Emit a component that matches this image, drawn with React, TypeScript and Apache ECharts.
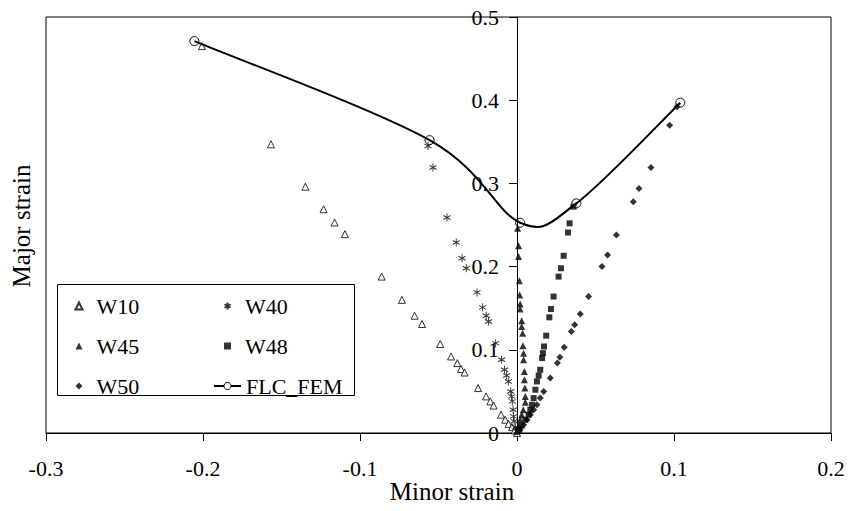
import React, { useEffect, useRef } from "react";
import * as echarts from "echarts";

const xTicks = { min: -0.3, max: 0.2, interval: 0.1 };
const yTicks = { min: 0, max: 0.5, interval: 0.1 };

const w10: number[][] = [
  [-0.2007, 0.465], [-0.1567, 0.347], [-0.1348, 0.296], [-0.1232, 0.269], [-0.1162, 0.253],
  [-0.1096, 0.239], [-0.0862, 0.188], [-0.0733, 0.16], [-0.0652, 0.141], [-0.0605, 0.131],
  [-0.0489, 0.107], [-0.042, 0.092], [-0.038, 0.084], [-0.0357, 0.077], [-0.0334, 0.0727],
  [-0.0248, 0.054], [-0.0197, 0.044], [-0.017, 0.038], [-0.0149, 0.033], [-0.0102, 0.022],
  [-0.0075, 0.016], [-0.0054, 0.011], [-0.0032, 0.007], [-0.0015, 0.003], [0, 0],
];

const w40: number[][] = [
  [-0.0567, 0.345], [-0.0535, 0.319], [-0.0446, 0.259], [-0.0387, 0.229], [-0.035, 0.21],
  [-0.0323, 0.198], [-0.0255, 0.169], [-0.0219, 0.151], [-0.0196, 0.141], [-0.0181, 0.134],
  [-0.0136, 0.108], [-0.0098, 0.088], [-0.008, 0.076], [-0.0066, 0.069], [-0.0055, 0.062],
  [-0.004, 0.05], [-0.0034, 0.044], [-0.003, 0.038], [-0.0025, 0.028], [-0.0022, 0.02],
  [-0.0018, 0.014], [-0.001, 0.007], [0, 0.002],
];

const w45: number[][] = [
  [0.0004, 0.246], [0.001, 0.225], [0.001, 0.212], [0.0015, 0.183], [0.0017, 0.166],
  [0.002, 0.155], [0.002, 0.149], [0.003, 0.135], [0.003, 0.128], [0.0036, 0.12],
  [0.0038, 0.105], [0.0042, 0.096], [0.0042, 0.088], [0.0047, 0.074], [0.0047, 0.064],
  [0.005, 0.054], [0.0053, 0.044], [0.0053, 0.037], [0.004, 0.028], [0.003, 0.022],
  [0.002, 0.016], [0.001, 0.008], [0, 0.002],
];

const w48: number[][] = [
  [0.036, 0.272], [0.0335, 0.252], [0.0325, 0.241], [0.0297, 0.213], [0.028, 0.198],
  [0.0265, 0.188], [0.0233, 0.164], [0.0216, 0.149], [0.0206, 0.139], [0.0186, 0.117],
  [0.0172, 0.104], [0.0165, 0.096], [0.016, 0.09], [0.0148, 0.076], [0.0138, 0.069],
  [0.0127, 0.062], [0.0117, 0.052], [0.0106, 0.042], [0.0096, 0.034], [0.0085, 0.028],
  [0.0074, 0.022], [0.0053, 0.016], [0.003, 0.009], [0.0015, 0.004],
];

const w50: number[][] = [
  [0.1019, 0.392], [0.0972, 0.37], [0.0853, 0.319], [0.0777, 0.294], [0.0741, 0.278],
  [0.0633, 0.238], [0.0577, 0.214], [0.0541, 0.2], [0.0456, 0.164], [0.0403, 0.143],
  [0.0367, 0.13], [0.0346, 0.122], [0.0301, 0.103], [0.0273, 0.091], [0.0257, 0.084],
  [0.0212, 0.066], [0.017, 0.05], [0.0148, 0.042], [0.0127, 0.034], [0.0106, 0.028],
  [0.0085, 0.022], [0.0064, 0.016], [0.0042, 0.01], [0.002, 0.004],
];

const flcFem: number[][] = [
  [-0.2055, 0.471], [-0.0557, 0.352], [0.002, 0.2527], [0.0378, 0.276], [0.104, 0.397],
];

const FONT = "'Liberation Serif', 'Times New Roman', serif";
const ASTERISK = "path://M5,0L5,10M0.67,2.5L9.33,7.5M0.67,7.5L9.33,2.5";

// Catmull-Rom style smooth curve (like a spreadsheet "smoothed line") through pixel points
function smoothPath(pts: number[][]): string {
  if (pts.length < 2) return "";
  let d = `M${pts[0][0]},${pts[0][1]}`;
  for (let i = 0; i < pts.length - 1; i++) {
    const p0 = pts[Math.max(0, i - 1)];
    const p1 = pts[i];
    const p2 = pts[i + 1];
    const p3 = pts[Math.min(pts.length - 1, i + 2)];
    const c1x = p1[0] + (p2[0] - p0[0]) / 6;
    const c1y = p1[1] + (p2[1] - p0[1]) / 6;
    const c2x = p2[0] - (p3[0] - p1[0]) / 6;
    const c2y = p2[1] - (p3[1] - p1[1]) / 6;
    d += `C${c1x},${c1y},${c2x},${c2y},${p2[0]},${p2[1]}`;
  }
  return d;
}

export default function App() {
  const ref = useRef<HTMLDivElement>(null);
  useEffect(() => {
    if (!ref.current) return;
    const chart = echarts.init(ref.current, null, { renderer: "svg" });
    const legendText = { fontFamily: FONT, fontSize: 22, color: "#000", lineHeight: 22 };
    const legendTextPad = { ...legendText, padding: [0, 0, 0, 9] };
    chart.setOption({
      animation: false,
      backgroundColor: "#fff",
      grid: {
        left: 46, right: 20, top: 17, bottom: 78,
        show: true, borderColor: "#000", borderWidth: 1, backgroundColor: "transparent",
      },
      xAxis: {
        type: "value",
        min: xTicks.min, max: xTicks.max, interval: xTicks.interval,
        axisLine: { show: true, onZero: false, lineStyle: { color: "#000", width: 1 } },
        axisTick: { show: true, inside: false, length: 8, lineStyle: { color: "#000" } },
        axisLabel: { fontFamily: FONT, fontSize: 22, color: "#000", margin: 24 },
        splitLine: { show: false },
      },
      yAxis: {
        type: "value",
        min: yTicks.min, max: yTicks.max, interval: yTicks.interval,
        offset: -471,
        axisLine: { show: true, onZero: false, lineStyle: { color: "#000", width: 1 } },
        axisTick: { show: true, inside: false, length: 8, lineStyle: { color: "#000" } },
        axisLabel: { fontFamily: FONT, fontSize: 22, color: "#000", margin: 18 },
        splitLine: { show: false },
      },
      legend: [
        {
          orient: "vertical", left: 74.5, top: 295, padding: 0, itemWidth: 7, itemHeight: 7, itemGap: 18,
          textStyle: legendTextPad, data: ["W10", "W45", "W50"], selectedMode: false,
        },
        {
          orient: "vertical", left: 223.5, top: 295, padding: 0, itemWidth: 7, itemHeight: 7, itemGap: 18,
          textStyle: legendTextPad, data: ["W40", "W48"], selectedMode: false,
        },
        {
          orient: "vertical", left: 213, top: 375, padding: 0, itemWidth: 27, itemHeight: 9, itemGap: 18,
          textStyle: legendText, data: ["FLC_FEM"], selectedMode: false,
          lineStyle: { color: "#000", width: 2, opacity: 1 },
          itemStyle: { color: "#fff", borderColor: "#000", borderWidth: 1, opacity: 1 },
        },
      ],
      graphic: [
        {
          type: "rect", z: 3, shape: { x: 57.5, y: 284.5, width: 297, height: 111 },
          style: { fill: "#fff", stroke: "#000", lineWidth: 1 },
        },
        {
          type: "text", x: 452, y: 491,
          style: { text: "Minor strain", font: `25px ${FONT}`, fill: "#000", textAlign: "center", textVerticalAlign: "middle" },
        },
        {
          type: "text", x: 21, y: 226, rotation: Math.PI / 2,
          style: { text: "Major strain", font: `25px ${FONT}`, fill: "#000", textAlign: "center", textVerticalAlign: "middle" },
        },
      ],
      series: [
        {
          name: "W10", type: "scatter", data: w10, symbol: "triangle", symbolSize: 7,
          itemStyle: { color: "#fff", borderColor: "#000", borderWidth: 1 }, z: 2,
        },
        {
          name: "W40", type: "scatter", data: w40, symbol: ASTERISK, symbolSize: [7, 8],
          itemStyle: { color: "transparent", borderColor: "#000", borderWidth: 1 }, z: 2,
        },
        {
          name: "W45", type: "scatter", data: w45, symbol: "triangle", symbolSize: 7,
          itemStyle: { color: "#000" }, z: 2,
        },
        {
          name: "W48", type: "scatter", data: w48, symbol: "rect", symbolSize: 6,
          itemStyle: { color: "#000" }, z: 2,
        },
        {
          name: "W50", type: "scatter", data: w50, symbol: "diamond", symbolSize: 7,
          itemStyle: { color: "#000" }, z: 2,
        },
        {
          name: "FLC_FEM curve", type: "custom", data: flcFem, z: 3,
          encode: { x: 0, y: 1 },
          renderItem: (params: any, api: any) => {
            if (params.dataIndex !== 0) return null;
            const pts = flcFem.map((p) => api.coord(p));
            return {
              type: "path",
              shape: { pathData: smoothPath(pts) },
              style: { stroke: "#000", lineWidth: 2, fill: "none" },
            };
          },
        },
        {
          name: "FLC_FEM", type: "line", data: flcFem,
          symbol: "circle", symbolSize: 9, showSymbol: true,
          lineStyle: { color: "#000", width: 2, opacity: 0 },
          itemStyle: { color: "rgba(0,0,0,0)", borderColor: "#000", borderWidth: 1 }, z: 4,
        },
      ],
    });
    return () => chart.dispose();
  }, []);
  return (
    <div
      ref={ref}
      style={{ position: "fixed", left: 0, top: 0, width: 851, height: 511, background: "#fff" }}
    />
  );
}
